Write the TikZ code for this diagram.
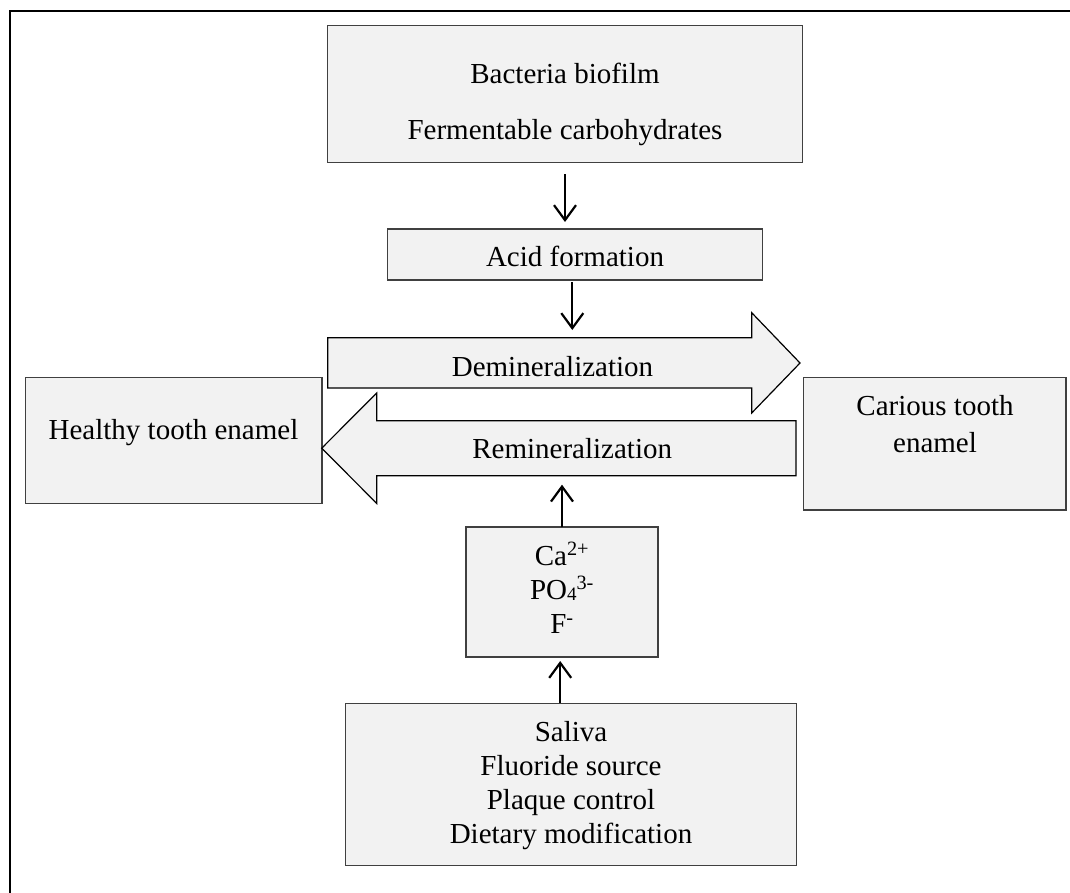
\documentclass[tikz,border=0pt]{standalone}
\usepackage{fontspec}
\setmainfont{Liberation Serif}
\usetikzlibrary{arrows.meta}
\definecolor{boxfill}{HTML}{F2F2F2}
\definecolor{boxline}{HTML}{404040}
\begin{document}
\begin{tikzpicture}[x=1pt,y=-1pt,
  box/.style={draw=boxline, fill=boxfill, line width=1.4pt, inner sep=0pt, outer sep=0pt},
  txt/.style={anchor=base, inner sep=0pt, font=\fontsize{29}{34}\selectfont},
  conn/.style={line width=2.2pt, -{Straight Barb[length=15pt,width=22pt,line width=2.2pt]}},
  barrow/.style={draw=black, fill=boxfill, line width=1.2pt, line join=miter}]
\useasboundingbox (0,0) rectangle (1070,892);
\clip (0,0) rectangle (1070,892);
% outer frame
\draw[line width=2.6pt] (10,900) -- (10,11) -- (1080,11);

% boxes
\node[box, minimum width=474.6pt, minimum height=136.6pt] (top) at (565,94) {};
\node[box, minimum width=374.6pt, minimum height=51pt] (acid) at (575,254.5) {};
\node[box, minimum width=296.3pt, minimum height=125.6pt] (healthy) at (173.85,440.5) {};
\node[box, minimum width=262.3pt, minimum height=132.3pt] (carious) at (934.85,443.85) {};
\node[box, minimum width=192pt, minimum height=130pt] (ion) at (562,592) {};
\node[box, minimum width=451pt, minimum height=162.4pt] (saliva) at (571.2,784.5) {};

% block arrows
\draw[barrow] (327.7,337.7) -- (751.7,337.7) -- (751.7,312.7) -- (800,363) -- (751.7,413) -- (751.7,388) -- (327.7,388) -- cycle;
\draw[barrow] (796,420.7) -- (376.7,420.7) -- (376.7,393) -- (321.7,448.2) -- (376.7,503.4) -- (376.7,475.7) -- (796,475.7) -- cycle;
\coordinate (dmtop) at (572.3,337.7);
\coordinate (rmbot) at (562,475.7);

% texts
\node[txt] (t1) at (565,83.3) {Bacteria biofilm};
\node[txt] (t2) at (565,139) {Fermentable carbohydrates};
\node[txt] (tacid) at (575,266.7) {Acid formation};
\node[txt] (demin) at (552.5,376) {Demineralization};
\node[txt] (remin) at (572.2,458.3) {Remineralization};
\node[txt] (thealthy) at (173.5,439) {Healthy tooth enamel};
\node[txt] (tc1) at (935,415) {Carious tooth};
\node[txt] (tc2) at (935,452.3) {enamel};
\node[txt] (ion1) at (562,565) {Ca\textsuperscript{2+}};
\node[txt] (ion2) at (562,599) {PO\raisebox{-1pt}{\fontsize{19}{19}\selectfont 4}\textsuperscript{3-}};
\node[txt] (ion3) at (562,633.3) {F\textsuperscript{-}};
\node[txt] (s1) at (571,741) {Saliva};
\node[txt] (s2) at (571,775) {Fluoride source};
\node[txt] (s3) at (571,809) {Plaque control};
\node[txt] (s4) at (571,843.3) {Dietary modification};

% connectors
\draw[conn, shorten <=11.7pt, shorten >=7pt] (top.south) -- (top.south |- acid.north);
\draw[conn, shorten <=2pt, shorten >=7.7pt] ([xshift=-2.7pt]acid.south) -- (dmtop);
\draw[conn, shorten >=9pt] (ion.north) -- (rmbot);
\draw[conn, shorten >=4pt] ([xshift=-11pt]saliva.north) -- ([xshift=-11pt]saliva.north |- ion.south);
\end{tikzpicture}
\end{document}
